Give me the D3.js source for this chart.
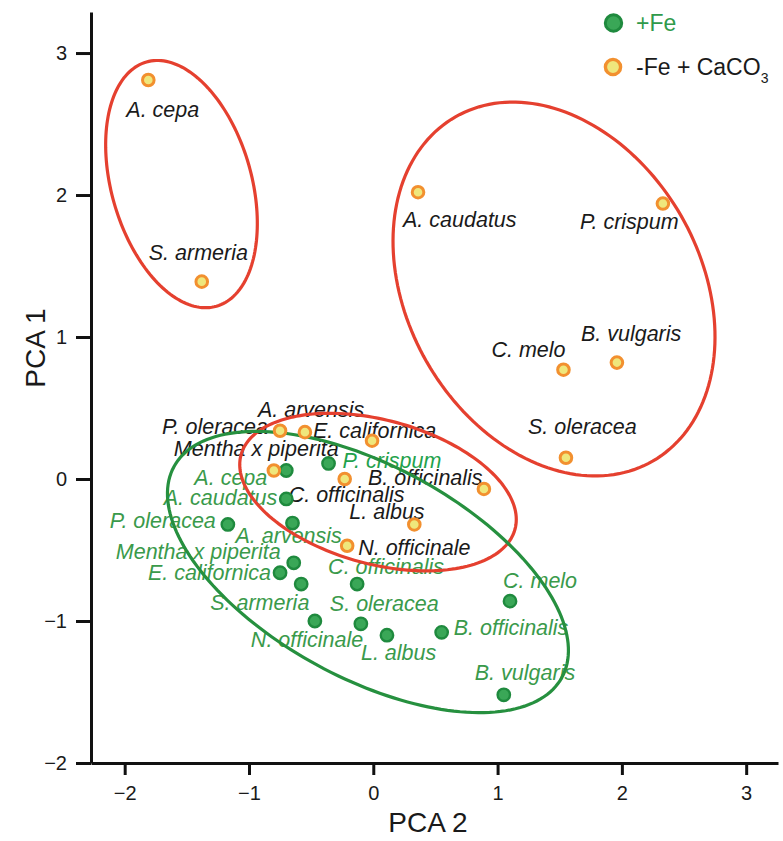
<!DOCTYPE html>
<html>
<head>
<meta charset="utf-8">
<script src="https://cdn.jsdelivr.net/npm/d3@7"></script>
<style>
  html, body { margin: 0; padding: 0; background: #ffffff; }
  svg { display: block; font-family: "Liberation Sans", Arial, sans-serif; }
</style>
</head>
<body>
<svg id="chart" width="783" height="841"></svg>
<script>
// Species scored under both iron treatments (same order for both groups)
const species = [
  "A. cepa", "S. armeria", "A. caudatus", "P. crispum", "C. melo",
  "B. vulgaris", "S. oleracea", "P. oleracea", "A. arvensis", "E. californica",
  "Mentha x piperita", "C. officinalis", "B. officinalis", "L. albus", "N. officinale"
];

// -Fe + CaCO3 scores
const minusFePC2 = [-1.81, -1.38, 0.36, 2.33, 1.53, 1.96, 1.55, -0.75, -0.55, -0.01, -0.80, -0.23, 0.89, 0.33, -0.21];
const minusFePC1 = [2.81, 1.39, 2.02, 1.94, 0.77, 0.82, 0.15, 0.34, 0.33, 0.27, 0.06, 0.00, -0.07, -0.32, -0.47];

// +Fe scores
const plusFePC2 = [-0.70, -0.58, -0.70, -0.36, 1.10, 1.05, -0.10, -1.17, -0.65, -0.75, -0.64, -0.13, 0.55, 0.11, -0.47];
const plusFePC1 = [0.06, -0.74, -0.14, 0.11, -0.86, -1.52, -1.02, -0.32, -0.31, -0.66, -0.59, -0.74, -1.08, -1.10, -1.00];

// Axis ticks
const xTicks = [-2, -1, 0, 1, 2, 3];
const yTicks = [-2, -1, 0, 1, 2, 3];

// Group ellipses: centre (PCA 2, PCA 1), semi-axes in PCA 2 units, tilt in degrees
const ellipseGroup = ["minus", "minus", "minus", "plus"];
const ellipseCx    = [-1.543, 1.454, 0.038, -0.043];
const ellipseCy    = [2.077, 1.338, -0.092, -0.655];
const ellipseA     = [1.022, 1.596, 1.142, 1.776];
const ellipseB     = [0.563, 1.180, 0.579, 0.853];
const ellipseTilt  = [74, 60.2, 15.2, 28.5];

// Label placement (pixel offsets from each marker, text anchor)
const minusLabelPos = [
  [-22, 37, "start"], [-53, -22, "start"], [-15, 35, "start"], [-83, 25, "start"], [-72, -13, "start"],
  [-36, -22, "start"], [-38, -24, "start"], [-12, 3, "end"], [-47, -15, "start"], [-59, -3, "start"],
  [-100, -14, "start"], [-56, 23, "start"], [-116, -4, "start"], [-65, -5, "start"], [11, 9, "start"]
];
const plusLabelPos = [
  [-19, 15, "end"], [-91, 26, "start"], [-9, 6, "end"], [14, 5, "start"], [-7, -13, "start"],
  [-29, -15, "start"], [-31, -13, "start"], [-12, 4, "end"], [-57, 20, "start"], [-9, 7, "end"],
  [-13, -4, "end"], [-29, -10, "start"], [12, 3, "start"], [-26, 25, "start"], [-64, 26, "start"]
];

const colors = {
  greenFill: "#3aa757", greenStroke: "#1f8a3e",
  orangeFill: "#efe77c", orangeStroke: "#f2902f",
  redLine: "#e5402f", greenLine: "#26903f",
  greenText: "#3a9a4b", darkText: "#1a1a1a"
};

const svg = d3.select("#chart");

const x = d3.scaleLinear().domain([-2.271, 3.256]).range([91, 778]);
const y = d3.scaleLinear().domain([-2, 3.289]).range([763, 12]);
const pxPerUnit = x(1) - x(0);

// Axes
const xAxis = svg.append("g").attr("transform", `translate(0,${y(-2)})`)
  .call(d3.axisBottom(x).tickValues(xTicks).tickSize(12).tickSizeOuter(0).tickPadding(11).tickFormat(d3.format("d")));
const yAxis = svg.append("g").attr("transform", `translate(${x.range()[0]},0)`)
  .call(d3.axisLeft(y).tickValues(yTicks).tickSize(15).tickSizeOuter(0).tickPadding(9).tickFormat(d3.format("d")));

[xAxis, yAxis].forEach(g => {
  g.select(".domain").attr("stroke", "#111").attr("stroke-width", 3);
  g.selectAll(".tick line").attr("stroke", "#111").attr("stroke-width", 3);
  g.selectAll(".tick text").attr("fill", "#1a1a1a").style("font-size", "20px")
    .style("font-family", "'Liberation Sans', Arial, sans-serif");
});
yAxis.selectAll(".tick text").attr("dy", "0.34em");

svg.append("text").attr("x", 428).attr("y", 832).attr("text-anchor", "middle")
  .attr("fill", "#1a1a1a").style("font-size", "28px").text("PCA 2");
svg.append("text").attr("transform", "translate(45,348) rotate(-90)").attr("text-anchor", "middle")
  .attr("fill", "#1a1a1a").style("font-size", "28px").text("PCA 1");

// Labels
const labelLayer = svg.append("g").style("font-style", "italic").style("font-size", "21.5px");

function addLabels(pc2, pc1, pos, fill) {
  labelLayer.selectAll(null).data(species).enter().append("text")
    .attr("x", (d, i) => x(pc2[i]) + pos[i][0])
    .attr("y", (d, i) => y(pc1[i]) + pos[i][1])
    .attr("text-anchor", (d, i) => pos[i][2])
    .attr("fill", (d, i) => typeof fill === "function" ? fill(d, i) : fill)
    .text(d => d);
}
addLabels(minusFePC2, minusFePC1, minusLabelPos, colors.darkText);
addLabels(plusFePC2, plusFePC1, plusLabelPos, d => d === "P. crispum" ? "#1fa24c" : colors.greenText);

// Ellipses
const ellipseLayer = svg.append("g").attr("fill", "none").attr("stroke-width", 3.2);
const line = d3.line().curve(d3.curveLinearClosed);
ellipseGroup.forEach((g, i) => {
  const cx = x(ellipseCx[i]), cy = y(ellipseCy[i]);
  const a = ellipseA[i] * pxPerUnit, b = ellipseB[i] * pxPerUnit;
  const th = ellipseTilt[i] * Math.PI / 180;
  const pts = d3.range(0, 360, 2).map(deg => {
    const t = deg * Math.PI / 180;
    const ex = a * Math.cos(t), ey = b * Math.sin(t);
    return [cx + ex * Math.cos(th) - ey * Math.sin(th), cy + ex * Math.sin(th) + ey * Math.cos(th)];
  });
  ellipseLayer.append("path").attr("d", line(pts))
    .attr("stroke", g === "plus" ? colors.greenLine : colors.redLine);
});

// Markers
const markerLayer = svg.append("g");
markerLayer.selectAll(null).data(species).enter().append("circle")
  .attr("cx", (d, i) => x(plusFePC2[i])).attr("cy", (d, i) => y(plusFePC1[i]))
  .attr("r", 6.2).attr("fill", colors.greenFill).attr("stroke", colors.greenStroke).attr("stroke-width", 2.4);
markerLayer.selectAll(null).data(species).enter().append("circle")
  .attr("cx", (d, i) => x(minusFePC2[i])).attr("cy", (d, i) => y(minusFePC1[i]))
  .attr("r", 5.8).attr("fill", colors.orangeFill).attr("stroke", colors.orangeStroke).attr("stroke-width", 3);

// Legend
const legend = svg.append("g").style("font-size", "23px");
legend.append("circle").attr("cx", 613.5).attr("cy", 23).attr("r", 8.2)
  .attr("fill", colors.greenFill).attr("stroke", colors.greenStroke).attr("stroke-width", 3);
legend.append("text").attr("x", 636).attr("y", 31).attr("fill", "#2f9a4a").text("+Fe");
legend.append("circle").attr("cx", 613).attr("cy", 67).attr("r", 7.6)
  .attr("fill", colors.orangeFill).attr("stroke", colors.orangeStroke).attr("stroke-width", 3.4);
const l2 = legend.append("text").attr("x", 636).attr("y", 75).attr("fill", colors.darkText);
l2.append("tspan").text("-Fe + CaCO");
l2.append("tspan").attr("dy", 8).style("font-size", "14px").text("3");
</script>
</body>
</html>
